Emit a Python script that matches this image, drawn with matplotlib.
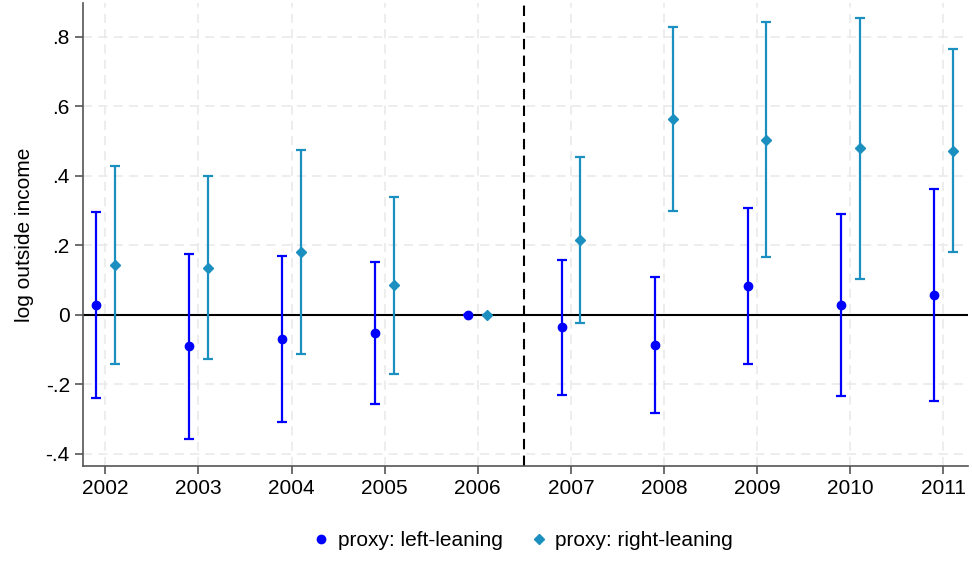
import matplotlib.pyplot as plt
import numpy as np

plt.rcParams['font.family'] = ['Liberation Sans', 'DejaVu Sans']

# event-study estimates with 95% CIs, 2006 is the reference year
years = [2002, 2003, 2004, 2005, 2006, 2007, 2008, 2009, 2010, 2011]

left_coef = [0.028, -0.091, -0.070, -0.052, 0.0, -0.036, -0.086, 0.083, 0.028, 0.057]
left_lo = [-0.239, -0.356, -0.308, -0.256, 0.0, -0.230, -0.283, -0.141, -0.233, -0.247]
left_hi = [0.295, 0.175, 0.169, 0.152, 0.0, 0.157, 0.110, 0.308, 0.289, 0.362]

right_coef = [0.142, 0.134, 0.180, 0.085, 0.0, 0.214, 0.564, 0.503, 0.479, 0.472]
right_lo = [-0.141, -0.127, -0.114, -0.169, 0.0, -0.025, 0.300, 0.165, 0.103, 0.182]
right_hi = [0.429, 0.398, 0.474, 0.340, 0.0, 0.455, 0.829, 0.842, 0.855, 0.765]

yticks = [-0.4, -0.2, 0, 0.2, 0.4, 0.6, 0.8]
ytick_labels = ['-.4', '-.2', '0', '.2', '.4', '.6', '.8']

blue = '#0000ff'
teal = '#1a8fc0'

fig = plt.figure(figsize=(9.72, 5.61), dpi=100)
ax = fig.add_axes([0.0854, 0.1693, 0.91, 0.8254])

x = np.array(years, dtype=float)
lc = np.array(left_coef)
rc = np.array(right_coef)

ax.axhline(0, color='black', lw=1.5, zorder=1)
ax.axvline(2006.5, color='black', lw=1.5, ls=(0, (5, 3)), zorder=1)

ax.errorbar(x - 0.1, lc, yerr=[lc - np.array(left_lo), np.array(left_hi) - lc],
            fmt='o', color=blue, ms=6, elinewidth=1.6, capsize=3.5, capthick=1.6,
            label='proxy: left-leaning', zorder=3)
ax.errorbar(x + 0.1, rc, yerr=[rc - np.array(right_lo), np.array(right_hi) - rc],
            fmt='D', color=teal, ms=5.5, elinewidth=1.6, capsize=3.5, capthick=1.6,
            label='proxy: right-leaning', zorder=3)

ax.set_xlim(2001.76, 2011.26)
ax.set_ylim(-0.435, 0.897)
ax.set_xticks(years)
ax.set_xticklabels([str(y) for y in years], fontsize=15)
ax.set_yticks(yticks)
ax.set_yticklabels(ytick_labels, fontsize=15)
ax.set_ylabel('log outside income', fontsize=15, labelpad=8)

ax.grid(True, color='#e8e8e8', ls=(0, (6, 4)), lw=1.1, zorder=0)
ax.set_axisbelow(True)

for s in ['top', 'right']:
    ax.spines[s].set_visible(False)
for s in ['left', 'bottom']:
    ax.spines[s].set_color('#555555')
    ax.spines[s].set_linewidth(1.2)
ax.tick_params(color='#555555', width=1.2, length=6)

handles = [
    plt.Line2D([], [], marker='o', color=blue, ls='', ms=6),
    plt.Line2D([], [], marker='D', color=teal, ls='', ms=5.5),
]
fig.legend(handles, ['proxy: left-leaning', 'proxy: right-leaning'],
           loc='center', bbox_to_anchor=(0.537, 0.036), ncol=2, frameon=False,
           fontsize=15, handletextpad=0.3, columnspacing=1.23, handlelength=1.0)

fig.savefig('out.png', dpi=100)
